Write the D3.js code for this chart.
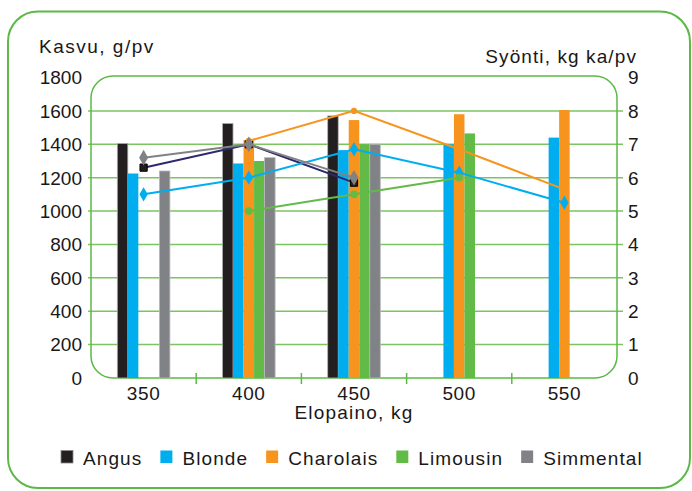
<!DOCTYPE html>
<html>
<head>
<meta charset="utf-8">
<script src="https://cdn.jsdelivr.net/npm/d3@7/dist/d3.min.js"></script>
<style>
  html, body { margin: 0; padding: 0; background: #ffffff; }
  svg { display: block; }
  text { font-family: "Liberation Sans", Arial, Helvetica, sans-serif; fill: #1a1718; }
</style>
</head>
<body>
<svg id="chart" width="692" height="491"></svg>
<script>
// Elopaino (kg) categories and the five breeds
const categories = ["350", "400", "450", "500", "550"];
const breeds = ["Angus", "Blonde", "Charolais", "Limousin", "Simmental"];
const breedColors = ["#231f20", "#00aeef", "#f7941d", "#62bb46", "#808285"];

// Kasvu, g/pv (bars, left axis)
const kasvuAngus     = [1405, 1525, 1570, null, null];
const kasvuBlonde    = [1225, 1285, 1365, 1400, 1440];
const kasvuCharolais = [null, 1425, 1545, 1580, 1605];
const kasvuLimousin  = [null, 1300, 1400, 1465, null];
const kasvuSimmental = [1240, 1320, 1400, null, null];

// Syönti, kg ka/pv (lines, right axis)
const syontiAngus     = [6.3, 7.0, 5.85, null, null];
const syontiBlonde    = [5.5, 6.0, 6.85, 6.15, 5.25];
const syontiCharolais = [null, 7.1, 8.0, 6.85, 5.65];
const syontiLimousin  = [null, 5.0, 5.5, 6.0, null];
const syontiSimmental = [6.6, 7.0, 6.0, null, null];

const leftTicks = [0, 200, 400, 600, 800, 1000, 1200, 1400, 1600, 1800];
const rightTicks = [0, 1, 2, 3, 4, 5, 6, 7, 8, 9];

const kasvu = [kasvuAngus, kasvuBlonde, kasvuCharolais, kasvuLimousin, kasvuSimmental];
const syonti = [syontiAngus, syontiBlonde, syontiCharolais, syontiLimousin, syontiSimmental];
const lineColors = ["#2b2a6b", "#00aeef", "#f7941d", "#62bb46", "#808285"];
const markerShapes = [d3.symbolSquare, d3.symbolDiamond, d3.symbolCircle, d3.symbolCircle, d3.symbolDiamond];
const markerSizes = [52, 60, 30, 46, 70];

const green = "#5cb946";
const gridGreen = "#7cc462";

const svg = d3.select("#chart");

// outer frame
svg.append("rect")
  .attr("x", 8).attr("y", 11.5).attr("width", 682).attr("height", 476.5)
  .attr("rx", 30).attr("ry", 30)
  .attr("fill", "#ffffff").attr("stroke", green).attr("stroke-width", 2);

const plot = { left: 91, right: 617, top: 77.5, bottom: 378 };

const x0 = d3.scaleBand().domain(categories).range([plot.left, plot.right]);
const x1 = d3.scaleBand().domain(breeds).range([x0.bandwidth() * 0.25, x0.bandwidth() * 0.75]);
const yLeft = d3.scaleLinear().domain([0, 1800]).range([plot.bottom, plot.top]);
const yRight = d3.scaleLinear().domain([0, 9]).range([plot.bottom, plot.top]);

// gridlines (with small ticks poking out on both sides)
svg.append("g").selectAll("line")
  .data(leftTicks.filter(t => t > 0 && t < 1800))
  .join("line")
  .attr("x1", plot.left - 3).attr("x2", plot.right + 6)
  .attr("y1", d => yLeft(d)).attr("y2", d => yLeft(d))
  .attr("stroke", gridGreen).attr("stroke-width", 1.5);

// plot frame
svg.append("rect")
  .attr("x", plot.left).attr("y", plot.top - 1.5)
  .attr("width", plot.right - plot.left).attr("height", plot.bottom - plot.top + 1.5)
  .attr("rx", 22).attr("ry", 22)
  .attr("fill", "none").attr("stroke", green).attr("stroke-width", 1.5);

// category separator ticks on the x axis
svg.append("g").selectAll("line")
  .data(categories.slice(1))
  .join("line")
  .attr("x1", d => x0(d)).attr("x2", d => x0(d))
  .attr("y1", plot.bottom - 5).attr("y2", plot.bottom + 6)
  .attr("stroke", green).attr("stroke-width", 1.5);

// bars
const barData = [];
categories.forEach((c, ci) => {
  breeds.forEach((b, bi) => {
    const v = kasvu[bi][ci];
    if (v != null) barData.push({ c, b, bi, v });
  });
});
svg.append("g").selectAll("rect")
  .data(barData)
  .join("rect")
  .attr("x", d => x0(d.c) + x1(d.b))
  .attr("y", d => yLeft(d.v))
  .attr("width", x1.bandwidth())
  .attr("height", d => yLeft(0) - yLeft(d.v))
  .attr("fill", d => breedColors[d.bi])
  .attr("stroke", d => d.bi === 0 ? "#b0b0b0" : (d.bi === 4 ? "#b8b9bb" : "none"))
  .attr("stroke-width", 0.8);

// lines and markers
const cx = c => x0(c) + x0.bandwidth() / 2;
breeds.forEach((b, bi) => {
  const pts = categories.map((c, ci) => ({ c, v: syonti[bi][ci] })).filter(p => p.v != null);
  const line = d3.line().x(p => cx(p.c)).y(p => yRight(p.v));
  svg.append("path")
    .datum(pts)
    .attr("d", line)
    .attr("fill", "none")
    .attr("stroke", lineColors[bi])
    .attr("stroke-width", 2);
  const sym = d3.symbol().type(markerShapes[bi]).size(markerSizes[bi]);
  svg.append("g").selectAll("path")
    .data(pts)
    .join("path")
    .attr("transform", p => `translate(${cx(p.c)},${yRight(p.v)})`)
    .attr("d", sym)
    .attr("fill", bi === 0 ? "#231f20" : lineColors[bi])
    .attr("stroke", bi === 0 ? "#000000" : "none")
    .attr("stroke-width", 1);
});

// left axis labels
svg.append("g").selectAll("text")
  .data(leftTicks)
  .join("text")
  .attr("x", 82).attr("y", d => yLeft(d))
  .attr("dy", "0.36em")
  .attr("text-anchor", "end")
  .attr("font-size", 19)
  .text(d => d);

// right axis labels
svg.append("g").selectAll("text")
  .data(rightTicks)
  .join("text")
  .attr("x", 628).attr("y", d => yRight(d))
  .attr("dy", "0.36em")
  .attr("font-size", 19)
  .text(d => d);

// x axis labels
svg.append("g").selectAll("text")
  .data(categories)
  .join("text")
  .attr("x", d => cx(d)).attr("y", 400)
  .attr("text-anchor", "middle")
  .attr("font-size", 19)
  .attr("letter-spacing", 0.6)
  .text(d => d);

// axis titles
svg.append("text")
  .attr("x", 39).attr("y", 53)
  .attr("font-size", 19).attr("letter-spacing", 1.5)
  .text("Kasvu, g/pv");
svg.append("text")
  .attr("x", 637).attr("y", 63)
  .attr("text-anchor", "end")
  .attr("font-size", 19).attr("letter-spacing", 1.1)
  .text("Syönti, kg ka/pv");
svg.append("text")
  .attr("x", (plot.left + plot.right) / 2).attr("y", 419)
  .attr("text-anchor", "middle")
  .attr("font-size", 19).attr("letter-spacing", 1.2)
  .text("Elopaino, kg");

// legend
const legend = svg.append("g");
let lx = 61;
breeds.forEach((b, bi) => {
  legend.append("rect")
    .attr("x", lx).attr("y", 450.5).attr("width", 12).attr("height", 12.5)
    .attr("fill", breedColors[bi])
    .attr("stroke", bi === 0 ? "#8a8a8a" : "none").attr("stroke-width", 0.8);
  const t = legend.append("text")
    .attr("x", lx + 22).attr("y", 465)
    .attr("font-size", 19).attr("letter-spacing", 1.1)
    .text(b);
  lx += 22 + t.node().getComputedTextLength() + 18;
});
</script>
</body>
</html>
